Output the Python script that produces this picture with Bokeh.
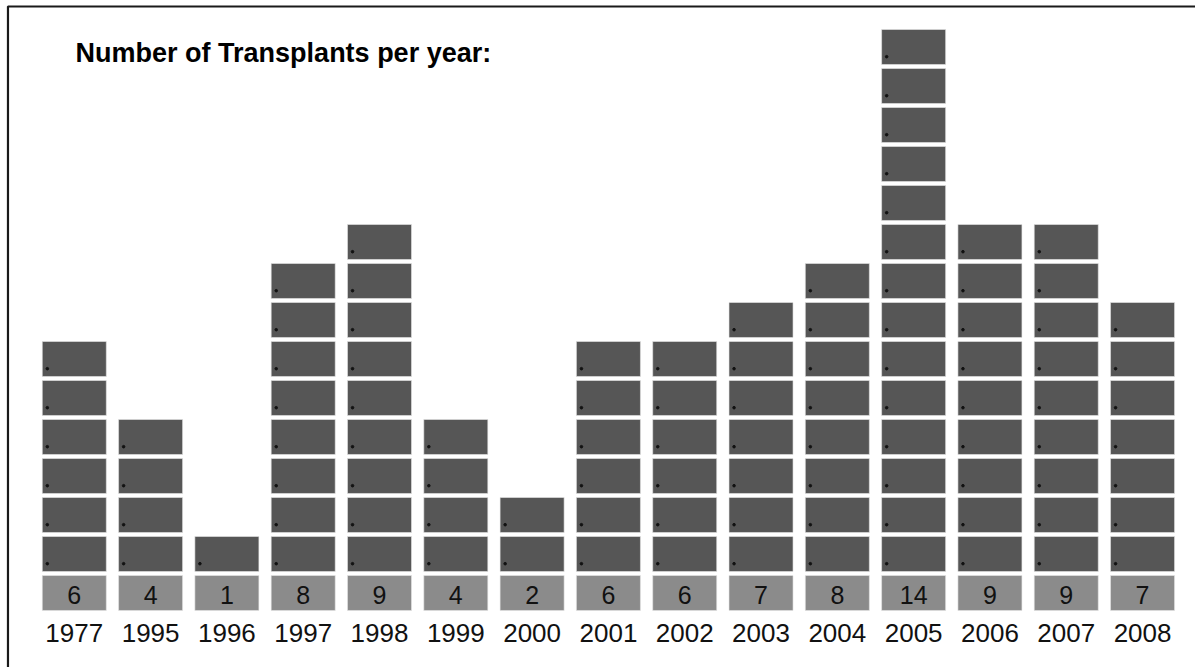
from bokeh.plotting import figure
from bokeh.models import Range1d, Label, ColumnDataSource
from bokeh.embed import file_html
from bokeh.resources import INLINE
from bokeh.core.properties import value

# ---- data ----
years = ["1977", "1995", "1996", "1997", "1998", "1999", "2000", "2001",
         "2002", "2003", "2004", "2005", "2006", "2007", "2008"]
counts = [6, 4, 1, 8, 9, 4, 2, 6, 6, 7, 8, 14, 9, 9, 7]
title_text = "Number of Transplants per year:"

# ---- layout constants (data units) ----
BAR_W = 0.839
GAP = 0.103
FONT = "Liberation Sans"

idx = list(range(len(years)))

# one block per transplant
bx, bbot, btop, dx, dy = [], [], [], [], []
for i, c in enumerate(counts):
    for k in range(c):
        bx.append(i)
        bbot.append(k + GAP)
        btop.append(k + 1.0)
        dx.append(i - BAR_W / 2 + 0.066)
        dy.append(k + GAP + 0.2)

blocks = ColumnDataSource(dict(x=bx, bottom=bbot, top=btop))
dots = ColumnDataSource(dict(x=dx, y=dy))
labels = ColumnDataSource(dict(
    x=idx,
    cnt=[str(c) for c in counts],
    year=years,
    cbot=[-1 + GAP] * len(idx),
    ctop=[0.0] * len(idx),
    cy=[-0.49] * len(idx),
    yy=[-1.48] * len(idx),
))

p = figure(width=1195, height=667,
           x_range=Range1d(-0.967, 14.694), y_range=Range1d(-2.359, 14.744),
           output_backend="svg", toolbar_location=None, min_border=0,
           x_axis_type=None, y_axis_type=None, outline_line_color=None)
p.background_fill_color = "white"
p.border_fill_color = "white"

# frame (left + top edges)
p.line(x=[-0.869, -0.869, 30], y=[-10, 14.59, 14.59],
       line_color="#1a1a1a", line_width=2.2)

# stacked blocks
p.vbar(x="x", bottom="bottom", top="top", width=BAR_W, source=blocks,
       fill_color="#565656", line_color="#e6e6e6", line_width=0.6)
p.scatter(x="x", y="y", source=dots, size=2.6, color="#111111")

# count boxes
p.vbar(x="x", bottom="cbot", top="ctop", width=BAR_W, source=labels,
       fill_color="#8b8b8b", line_color="#e6e6e6", line_width=0.6)
p.text(x="x", y="cy", text="cnt", source=labels, text_align="center",
       text_baseline="middle", text_font=value(FONT),
       text_font_size="25px", text_color="#111111")
p.text(x="x", y="yy", text="year", source=labels, text_align="center",
       text_baseline="middle", text_font=value(FONT),
       text_font_size="26px", text_color="#111111")

p.add_layout(Label(x=0.017, y=13.4, text=title_text, text_font=FONT,
                   text_font_style="bold", text_font_size="27px",
                   text_baseline="alphabetic", text_color="black"))

open("out.html", "w").write(file_html(p, INLINE))
